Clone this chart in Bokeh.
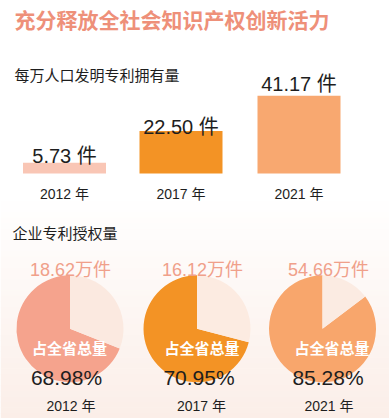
import math
from bokeh.plotting import figure
from bokeh.models import Range1d, ColumnDataSource
from bokeh.core.properties import value
from bokeh.embed import file_html
from bokeh.resources import INLINE

# ---------------- data ----------------
TITLE = "充分释放全社会知识产权创新活力"
BAR_TITLE = "每万人口发明专利拥有量"
PIE_TITLE = "企业专利授权量"
YEARS = ["2012", "2017", "2021"]
PATENTS_PER_10K = [5.73, 22.50, 41.17]      # 件
GRANTS_WAN = [18.62, 16.12, 54.66]          # 万件
SHARE_PCT = [68.98, 70.95, 85.28]           # 占全省总量 %
SHARE_LABEL = "占全省总量"

# ---------------- style / layout ----------------
W, H = 389, 418
CJK = "Noto Sans CJK SC"
MIX = "Liberation Sans, Noto Sans CJK SC"
BAR_COLORS = ["#F9C6B5", "#F39325", "#F8A870"]
PIE_COLORS = ["#F5A38D", "#F39325", "#F8A66C"]
PIE_REST = ["#FBE9E0", "#FCEBE1", "#FBEBE2"]
SALMON = "#EE9079"
VALUE_SALMON = "#F0A08A"
DARK = "#1E1E1E"

BAR_X = [64, 180.5, 298.5]
BAR_W = 83
BASE_PY = 173          # pixel row of bar baseline
PX_PER_UNIT = 1.89
BAR_LABEL_PY = [155, 126, 83]

PIE_X = [69.5, 196.5, 322]
PIE_PY = 328.3
PIE_R = 53.5
PIE_TXT_X = [70, 202, 328]
PIE_PCT_X = [66, 198.5, 327.5]
PIE_LABEL_X = [69, 201.5, 331.5]
PIE_YEAR_X = [70.5, 201, 328.5]


def Y(py):
    return H - py


p = figure(width=W, height=H, output_backend="svg", toolbar_location=None,
           x_range=Range1d(0, W), y_range=Range1d(0, H),
           min_border=0, outline_line_color=None)
p.axis.visible = False
p.grid.visible = False
p.background_fill_color = "#FFFFFF"
p.border_fill_color = "#FFFFFF"

# soft pink gradient in the lower part
n = 40
top0, bot0 = 195, 418
c0 = (255, 255, 255)
c1 = (251, 238, 232)
lefts, rights, tops, bottoms, cols = [], [], [], [], []
for i in range(n):
    a = top0 + (bot0 - top0) * i / n
    b = top0 + (bot0 - top0) * (i + 1) / n
    t = (i + 0.5) / n
    col = tuple(int(round(c0[k] + (c1[k] - c0[k]) * t)) for k in range(3))
    lefts.append(0); rights.append(W); tops.append(Y(a)); bottoms.append(Y(b) - 0.5)
    cols.append("#%02X%02X%02X" % col)
p.quad(left=lefts, right=rights, top=tops, bottom=bottoms, fill_color=cols, line_color=None)

# title & section headings
p.text(x=[14], y=[Y(18.5)], text=[TITLE], text_font=value(CJK), text_font_style="bold",
       text_font_size="21px", text_color=SALMON, text_baseline="middle", text_align="left")
p.text(x=[14], y=[Y(73.5)], text=[BAR_TITLE], text_font=value(CJK),
       text_font_size="15px", text_color=DARK, text_baseline="middle", text_align="left")
p.text(x=[12], y=[Y(231.5)], text=[PIE_TITLE], text_font=value(CJK),
       text_font_size="15px", text_color=DARK, text_baseline="middle", text_align="left")

# ---------------- bars ----------------
p.extra_y_ranges = {"bars": Range1d(-(H - BASE_PY) / PX_PER_UNIT, BASE_PY / PX_PER_UNIT)}
bar_src = ColumnDataSource(dict(x=BAR_X, top=PATENTS_PER_10K, color=BAR_COLORS))
p.vbar(x="x", top="top", bottom=0, width=BAR_W, fill_color="color", line_color=None,
       source=bar_src, y_range_name="bars")
p.text(x=BAR_X, y=[Y(v) for v in BAR_LABEL_PY],
       text=["%.2f 件" % v for v in PATENTS_PER_10K], text_font=value(MIX),
       text_font_size="20px", text_color=DARK, text_align="center", text_baseline="alphabetic")
p.text(x=BAR_X, y=[Y(193)] * 3, text=[y + " 年" for y in YEARS], text_font=value(MIX),
       text_font_size="14px", text_color=DARK, text_align="center", text_baseline="alphabetic")

# ---------------- pies ----------------
starts, ends, wx, colors = [], [], [], []
for i, pct in enumerate(SHARE_PCT):
    a = math.pi / 2 + pct / 100 * 2 * math.pi
    starts += [math.pi / 2, a]
    ends += [a, math.pi / 2 + 2 * math.pi]
    wx += [PIE_X[i], PIE_X[i]]
    colors += [PIE_COLORS[i], PIE_REST[i]]
p.wedge(x=wx, y=[Y(PIE_PY)] * len(wx), radius=PIE_R, radius_units="screen",
        start_angle=starts, end_angle=ends, fill_color=colors, line_color=None)

p.text(x=PIE_TXT_X, y=[Y(269)] * 3, text=["%.2f万件" % v for v in GRANTS_WAN],
       text_font=value(MIX), text_font_size="18px", text_color=VALUE_SALMON,
       text_align="center", text_baseline="alphabetic")
p.text(x=PIE_LABEL_X, y=[Y(347)] * 3, text=[SHARE_LABEL] * 3, text_font=value(CJK),
       text_font_style="bold", text_font_size="15px", text_color="#FFFFFF",
       text_align="center", text_baseline="middle")
p.text(x=PIE_PCT_X, y=[Y(377)] * 3, text=["%.2f%%" % v for v in SHARE_PCT],
       text_font=value(MIX), text_font_size="21px", text_color=DARK,
       text_align="center", text_baseline="alphabetic")
p.text(x=PIE_YEAR_X, y=[Y(405)] * 3, text=[y + " 年" for y in YEARS], text_font=value(MIX),
       text_font_size="14px", text_color=DARK, text_align="center", text_baseline="alphabetic")

open("out.html", "w").write(file_html(p, INLINE))
